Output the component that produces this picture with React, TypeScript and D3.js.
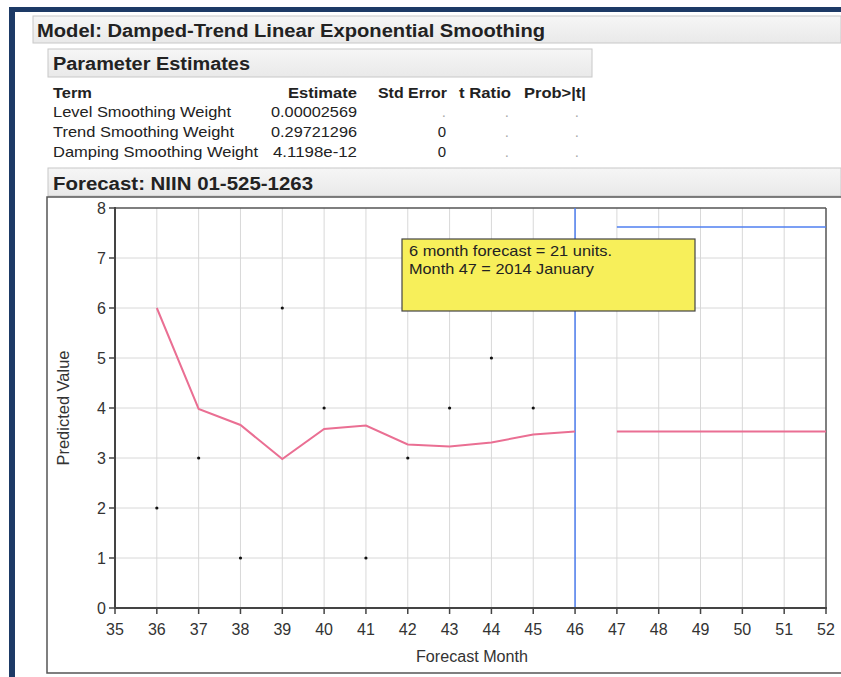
import React from "react";
import * as d3 from "d3";

const W = 841;
const H = 677;

const predMonths = [36, 37, 38, 39, 40, 41, 42, 43, 44, 45, 46];
const predValues = [6.0, 3.98, 3.66, 2.98, 3.58, 3.65, 3.27, 3.23, 3.31, 3.47, 3.53];
const actualMonths = [36, 37, 38, 39, 40, 41, 42, 43, 44, 45];
const actualValues = [2, 3, 1, 6, 4, 1, 3, 4, 5, 4];
const forecastMonths = [47, 48, 49, 50, 51, 52];
const forecastValues = [3.53, 3.53, 3.53, 3.53, 3.53, 3.53];
const upperValues = [7.62, 7.62, 7.62, 7.62, 7.62, 7.62];
const xTicks = [35, 36, 37, 38, 39, 40, 41, 42, 43, 44, 45, 46, 47, 48, 49, 50, 51, 52];
const yTicks = [0, 1, 2, 3, 4, 5, 6, 7, 8];
const boundaryMonth = 46;

const paramTerms = ["Level Smoothing Weight", "Trend Smoothing Weight", "Damping Smoothing Weight"];
const paramEstimates = ["0.00002569", "0.29721296", "4.1198e-12"];
const paramStdErr = [".", "0", "0"];
const paramTRatio = [".", ".", "."];
const paramProb = [".", ".", "."];

const FONT = "'Liberation Sans', Arial, sans-serif";

const termLens = [178, 181, 205];
const estLens = [86, 86, 84];

export default function App() {
  const x = d3.scaleLinear().domain([35, 52]).range([115, 826]);
  const y = d3.scaleLinear().domain([0, 8]).range([608, 208]);

  const predLine = d3
    .line<number>()
    .x((_, i) => x(predMonths[i]))
    .y((d) => y(d))(predValues) as string;
  const fcLine = d3
    .line<number>()
    .x((_, i) => x(forecastMonths[i]))
    .y((d) => y(d))(forecastValues) as string;
  const upLine = d3
    .line<number>()
    .x((_, i) => x(forecastMonths[i]))
    .y((d) => y(d))(upperValues) as string;

  const headerGrad = "hdrGrad";
  const LA = "spacingAndGlyphs";

  return (
    <svg
      width={W}
      height={H}
      style={{ position: "absolute", left: 0, top: 0, background: "#fff" }}
      fontFamily={FONT}
    >
      <defs>
        <linearGradient id={headerGrad} x1="0" y1="0" x2="0" y2="1">
          <stop offset="0" stopColor="#f6f6f6" />
          <stop offset="1" stopColor="#e9e9e9" />
        </linearGradient>
      </defs>
      <rect x={0} y={0} width={W} height={H} fill="#fff" />
      {/* navy frame */}
      <rect x={9} y={7} width={W - 9} height={5} fill="#1d3a66" />
      <rect x={9} y={7} width={6} height={H - 7} fill="#1d3a66" />

      {/* Model header */}
      <rect x={33} y={16} width={W - 33} height={27} fill={`url(#${headerGrad})`} stroke="#c8c8c8" />
      <text x={37} y={37} fontSize={18} fontWeight="bold" fill="#222" textLength={508} lengthAdjust={LA}>
        Model: Damped-Trend Linear Exponential Smoothing
      </text>

      {/* Parameter Estimates */}
      <rect x={48} y={49} width={544} height={28} fill={`url(#${headerGrad})`} stroke="#c8c8c8" />
      <text x={53} y={70} fontSize={18} fontWeight="bold" fill="#222" textLength={197} lengthAdjust={LA}>
        Parameter Estimates
      </text>
      <g fontSize={15} fill="#222">
        <text x={53} y={98} fontWeight="bold" textLength={39} lengthAdjust={LA}>Term</text>
        <text x={288} y={98} fontWeight="bold" textLength={69} lengthAdjust={LA}>Estimate</text>
        <text x={378} y={98} fontWeight="bold" textLength={69} lengthAdjust={LA}>Std Error</text>
        <text x={459} y={98} fontWeight="bold" textLength={52} lengthAdjust={LA}>t Ratio</text>
        <text x={524} y={98} fontWeight="bold" textLength={62} lengthAdjust={LA}>Prob&gt;|t|</text>
        {paramTerms.map((t, i) => (
          <g key={t}>
            <text x={53} y={117 + i * 20} textLength={termLens[i]} lengthAdjust={LA}>{t}</text>
            <text x={357 - estLens[i]} y={117 + i * 20} textLength={estLens[i]} lengthAdjust={LA}>
              {paramEstimates[i]}
            </text>
            <text x={446} y={117 + i * 20} textAnchor="end" fill={paramStdErr[i] === "." ? "#aaa" : "#222"}>
              {paramStdErr[i]}
            </text>
            <text x={509} y={117 + i * 20} textAnchor="end" fill="#aaa">{paramTRatio[i]}</text>
            <text x={579} y={117 + i * 20} textAnchor="end" fill="#aaa">{paramProb[i]}</text>
          </g>
        ))}
      </g>

      {/* Forecast header */}
      <rect x={48} y={168} width={W - 48} height={28} fill={`url(#${headerGrad})`} stroke="#c8c8c8" />
      <text x={53} y={190} fontSize={18} fontWeight="bold" fill="#222" textLength={260} lengthAdjust={LA}>
        Forecast:  NIIN 01-525-1263
      </text>

      {/* outer chart box */}
      <rect x={47} y={197} width={W - 47 + 2} height={476} fill="#fff" stroke="#555" strokeWidth={1.5} />

      {/* grid */}
      <g stroke="#d8d8d8" strokeWidth={1}>
        {xTicks.slice(1, -1).map((t) => (
          <line key={"gx" + t} x1={x(t)} x2={x(t)} y1={y(8)} y2={y(0)} />
        ))}
        {yTicks.slice(1, -1).map((t) => (
          <line key={"gy" + t} x1={x(35)} x2={x(52)} y1={y(t)} y2={y(t)} />
        ))}
      </g>

      {/* frame */}
      <line x1={x(35)} x2={x(52)} y1={y(8)} y2={y(8)} stroke="#555" strokeWidth={1.5} />
      <line x1={x(52)} x2={x(52)} y1={y(8)} y2={y(0)} stroke="#555" strokeWidth={1.5} />

      {/* blue lines */}
      <line x1={x(boundaryMonth)} x2={x(boundaryMonth)} y1={y(8)} y2={y(0)} stroke="#4f7ff0" strokeWidth={1.5} />
      <path d={upLine} fill="none" stroke="#4f7ff0" strokeWidth={1.5} />

      {/* predicted */}
      <path d={predLine} fill="none" stroke="#ea6f93" strokeWidth={2} />
      <path d={fcLine} fill="none" stroke="#ea6f93" strokeWidth={2} />

      {/* actual points */}
      {actualMonths.map((m, i) => (
        <circle key={"p" + m} cx={x(m)} cy={y(actualValues[i])} r={1.6} fill="#111" />
      ))}

      {/* annotation */}
      <rect x={402} y={239} width={293} height={72} fill="#f7ef5a" stroke="#444" strokeWidth={1.2} />
      <text x={409} y={256} fontSize={15} fill="#222" textLength={203} lengthAdjust={LA}>
        6 month forecast = 21 units.
      </text>
      <text x={409} y={274} fontSize={15} fill="#222" textLength={185} lengthAdjust={LA}>
        Month 47 = 2014 January
      </text>

      {/* axes */}
      <line x1={x(35)} x2={x(35)} y1={y(8) - 1} y2={y(0) + 1} stroke="#444" strokeWidth={2} />
      <line x1={x(35) - 1} x2={x(52) + 1} y1={y(0)} y2={y(0)} stroke="#444" strokeWidth={2} />
      {yTicks.map((t) => (
        <g key={"yt" + t}>
          <line x1={x(35) - 6} x2={x(35)} y1={y(t)} y2={y(t)} stroke="#444" strokeWidth={1.5} />
          <text x={x(35) - 9} y={y(t) + 6} fontSize={16} textAnchor="end" fill="#333">
            {t}
          </text>
        </g>
      ))}
      {xTicks.map((t) => (
        <g key={"xt" + t}>
          <line x1={x(t)} x2={x(t)} y1={y(0)} y2={y(0) + 6} stroke="#444" strokeWidth={1.5} />
          <text x={x(t)} y={y(0) + 27} fontSize={16} textAnchor="middle" fill="#333">
            {t}
          </text>
        </g>
      ))}
      <text
        x={0}
        y={0}
        transform={`translate(69, ${(y(0) + y(8)) / 2}) rotate(-90)`}
        fontSize={16}
        textAnchor="middle"
        fill="#333"
        textLength={115}
        lengthAdjust={LA}
      >
        Predicted Value
      </text>
      <text x={416} y={662} fontSize={16} fill="#333" textLength={112} lengthAdjust={LA}>
        Forecast Month
      </text>
    </svg>
  );
}
